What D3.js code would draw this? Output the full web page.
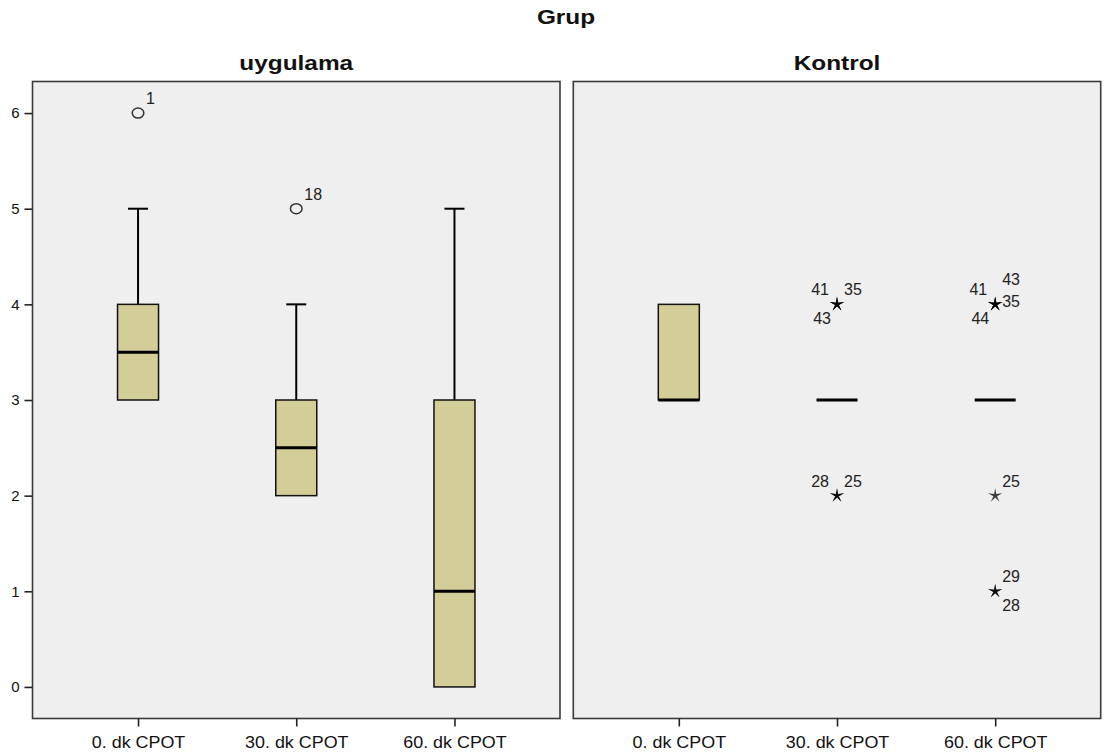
<!DOCTYPE html>
<html>
<head>
<meta charset="utf-8">
<script src="https://cdn.jsdelivr.net/npm/d3@7"></script>
<style>
  html, body { margin: 0; padding: 0; background: #ffffff; }
  svg { display: block; font-family: "Liberation Sans", Arial, sans-serif; }
</style>
</head>
<body>
<svg id="chart" width="1105" height="756"></svg>
<script>
// ---- data -------------------------------------------------------------
const groups = ["uygulama", "Kontrol"];
const categories = ["0. dk CPOT", "30. dk CPOT", "60. dk CPOT"];
const yTicks = [0, 1, 2, 3, 4, 5, 6];

// five-number summaries per group, one entry per category
const uygulamaLow    = [3, 2, 0];
const uygulamaQ1     = [3, 2, 0];
const uygulamaMedian = [3.5, 2.5, 1];
const uygulamaQ3     = [4, 3, 3];
const uygulamaHigh   = [5, 4, 5];

const kontrolLow    = [3, 3, 3];
const kontrolQ1     = [3, 3, 3];
const kontrolMedian = [3, 3, 3];
const kontrolQ3     = [4, 3, 3];
const kontrolHigh   = [4, 3, 3];

// outlying cases: group, category, value, case number, kind (o = outlier, * = extreme)
const outlierGroup    = ["uygulama", "uygulama", "Kontrol", "Kontrol", "Kontrol", "Kontrol", "Kontrol",
                         "Kontrol", "Kontrol", "Kontrol", "Kontrol", "Kontrol", "Kontrol", "Kontrol"];
const outlierCategory = ["0. dk CPOT", "30. dk CPOT", "30. dk CPOT", "30. dk CPOT", "30. dk CPOT", "30. dk CPOT", "30. dk CPOT",
                         "60. dk CPOT", "60. dk CPOT", "60. dk CPOT", "60. dk CPOT", "60. dk CPOT", "60. dk CPOT", "60. dk CPOT"];
const outlierValue    = [6, 5, 4, 4, 4, 2, 2, 4, 4, 4, 4, 2, 1, 1];
const outlierCase     = [1, 18, 41, 35, 43, 28, 25, 41, 43, 35, 44, 25, 29, 28];
const outlierKind     = ["o", "o", "*", "*", "*", "*", "*", "*", "*", "*", "*", "*", "*", "*"];

// ---- layout -----------------------------------------------------------
const panelTop = 81.5, panelBottom = 718.5;
const panelX = { "uygulama": [32.5, 560], "Kontrol": [573.3, 1100.7] };
const fill = "#d3ce97";
const panelBg = "#efefef";

// where each case number sits around its marker (dx, dy, anchor)
const labelSlot = {
  ur:  [7, -9, "start"],
  ul:  [-8, -9, "end"],
  uur: [7, -19, "start"],
  r:   [7, 3, "start"],
  ll:  [-6, 20, "end"],
  lr:  [7, 20, "start"],
  sup: [8, -9, "start"]
};
const slotOrder = {
  "uygulama|0. dk CPOT|6": ["sup"],
  "uygulama|30. dk CPOT|5": ["sup"],
  "Kontrol|30. dk CPOT|4": ["ul", "ur", "ll"],
  "Kontrol|30. dk CPOT|2": ["ul", "ur"],
  "Kontrol|60. dk CPOT|4": ["ul", "uur", "r", "ll"],
  "Kontrol|60. dk CPOT|2": ["ur"],
  "Kontrol|60. dk CPOT|1": ["ur", "lr"]
};

const svg = d3.select("#chart");

const y = d3.scaleLinear().domain([-0.33, 6.33]).range([panelBottom, panelTop]);

// horizontally widened text
function stretchedText(sel, x, yy, txt, size, weight, anchor, sx) {
  return sel.append("text")
    .attr("transform", `translate(${x},${yy}) scale(${sx},1)`)
    .attr("text-anchor", anchor)
    .attr("font-size", size)
    .attr("font-weight", weight)
    .attr("fill", "#111")
    .text(txt);
}

// overall title
stretchedText(svg, 566, 24, "Grup", 20, "bold", "middle", 1.22);

const stats = {
  "uygulama": { low: uygulamaLow, q1: uygulamaQ1, med: uygulamaMedian, q3: uygulamaQ3, high: uygulamaHigh },
  "Kontrol":  { low: kontrolLow,  q1: kontrolQ1,  med: kontrolMedian,  q3: kontrolQ3,  high: kontrolHigh }
};

// five-arm star path for extreme values
function starPath(r, ri) {
  const pts = [];
  for (let k = 0; k < 10; k++) {
    const a = -Math.PI / 2 + k * Math.PI / 5;
    const rr = k % 2 === 0 ? r : ri;
    pts.push([rr * Math.cos(a), rr * Math.sin(a)]);
  }
  return "M" + pts.map(p => p[0].toFixed(2) + "," + p[1].toFixed(2)).join("L") + "Z";
}
const star = starPath(7.5, 1.9);

groups.forEach((g, gi) => {
  const [x0, x1] = panelX[g];
  const x = d3.scalePoint().domain(categories).range([x0, x1]).padding(0.667);
  const boxW = 41, capW = 20;

  const panel = svg.append("g");

  panel.append("rect")
    .attr("x", x0).attr("y", panelTop)
    .attr("width", x1 - x0).attr("height", panelBottom - panelTop)
    .attr("fill", panelBg);

  // panel title
  stretchedText(svg, (x0 + x1) / 2, 70, g, 20, "bold", "middle", 1.22);

  const s = stats[g];
  categories.forEach((c, i) => {
    const cx = x(c);
    const bx = panel.append("g");
    // whiskers with caps
    if (s.high[i] > s.q3[i]) {
      bx.append("line").attr("x1", cx).attr("x2", cx)
        .attr("y1", y(s.q3[i])).attr("y2", y(s.high[i]))
        .attr("stroke", "#000").attr("stroke-width", 2);
      bx.append("line").attr("x1", cx - capW / 2).attr("x2", cx + capW / 2)
        .attr("y1", y(s.high[i])).attr("y2", y(s.high[i]))
        .attr("stroke", "#000").attr("stroke-width", 2);
    }
    if (s.low[i] < s.q1[i]) {
      bx.append("line").attr("x1", cx).attr("x2", cx)
        .attr("y1", y(s.q1[i])).attr("y2", y(s.low[i]))
        .attr("stroke", "#000").attr("stroke-width", 2);
      bx.append("line").attr("x1", cx - capW / 2).attr("x2", cx + capW / 2)
        .attr("y1", y(s.low[i])).attr("y2", y(s.low[i]))
        .attr("stroke", "#000").attr("stroke-width", 2);
    }
    // interquartile box
    if (s.q3[i] > s.q1[i]) {
      bx.append("rect")
        .attr("x", cx - boxW / 2).attr("y", y(s.q3[i]))
        .attr("width", boxW).attr("height", y(s.q1[i]) - y(s.q3[i]))
        .attr("fill", fill).attr("stroke", "#111").attr("stroke-width", 1.5);
    }
    // median
    bx.append("line")
      .attr("x1", cx - boxW / 2).attr("x2", cx + boxW / 2)
      .attr("y1", y(s.med[i])).attr("y2", y(s.med[i]))
      .attr("stroke", "#000").attr("stroke-width", 3);
  });

  // outliers and extremes with their case numbers
  const seen = {};
  outlierValue.forEach((v, k) => {
    if (outlierGroup[k] !== g) return;
    const c = outlierCategory[k];
    const cx = x(c), cy = y(v);
    const key = `${g}|${c}|${v}`;
    const n = seen[key] || 0;
    seen[key] = n + 1;
    if (outlierKind[k] === "o") {
      panel.append("ellipse")
        .attr("cx", cx).attr("cy", cy).attr("rx", 5.8).attr("ry", 5)
        .attr("fill", "none").attr("stroke", "#333").attr("stroke-width", 1.5);
    } else {
      panel.append("path")
        .attr("d", star).attr("transform", `translate(${cx},${cy})`)
        .attr("fill", "#000").attr("fill-opacity", 0.75);
    }
    const slot = labelSlot[(slotOrder[key] || ["ur"])[n] || "ur"];
    panel.append("text")
      .attr("x", cx + slot[0]).attr("y", cy + slot[1])
      .attr("text-anchor", slot[2])
      .attr("font-size", 16).attr("fill", "#222")
      .text(outlierCase[k]);
  });

  // panel frame
  panel.append("rect")
    .attr("x", x0).attr("y", panelTop)
    .attr("width", x1 - x0).attr("height", panelBottom - panelTop)
    .attr("fill", "none").attr("stroke", "#3a3a3a").attr("stroke-width", 1.6);

  // category axis
  const xa = svg.append("g").attr("transform", `translate(0,${panelBottom})`)
    .call(d3.axisBottom(x).tickSize(8).tickPadding(10));
  xa.select(".domain").remove();
  xa.selectAll(".tick line").attr("stroke", "#222").attr("stroke-width", 1.6);
  xa.selectAll(".tick text").attr("font-size", 16).attr("fill", "#111")
    .attr("font-family", "Liberation Sans, Arial, sans-serif")
    .attr("transform", "scale(1.12,1)");

  // value axis on the first panel only
  if (gi === 0) {
    const ya = svg.append("g").attr("transform", `translate(${x0},0)`)
      .call(d3.axisLeft(y).tickValues(yTicks).tickFormat(d3.format("d")).tickSize(8).tickPadding(5));
    ya.select(".domain").remove();
    ya.selectAll(".tick line").attr("stroke", "#222").attr("stroke-width", 1.6);
    ya.selectAll(".tick text").attr("font-size", 15).attr("fill", "#111")
      .attr("font-family", "Liberation Sans, Arial, sans-serif");
  }
});
</script>
</body>
</html>
